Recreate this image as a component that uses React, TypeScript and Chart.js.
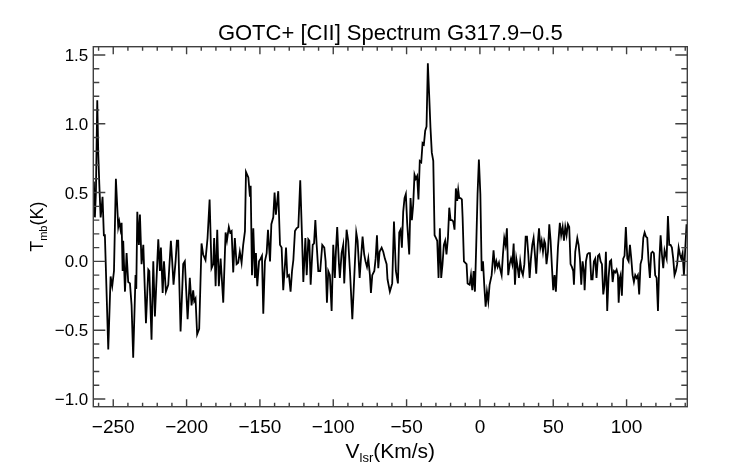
import React, { useEffect, useRef } from "react";
import { Chart, registerables } from "chart.js";

Chart.register(...registerables);

// ---- Text ----
const TITLE = "GOTC+ [CII] Spectrum G317.9\u22120.5";
const X_TITLE_MAIN = "V";
const X_TITLE_SUB = "lsr";
const X_TITLE_TAIL = "(Km/s)";
const Y_TITLE_MAIN = "T";
const Y_TITLE_SUB = "mb";
const Y_TITLE_TAIL = "(K)";

// ---- Axis ranges and ticks ----
const X_MIN = -263.6;
const X_MAX = 141.4;
const Y_MIN = -1.056;
const Y_MAX = 1.56;
const xMajorTicks = [-250, -200, -150, -100, -50, 0, 50, 100];
const yMajorTicks = [-1.0, -0.5, 0.0, 0.5, 1.0, 1.5];
const X_MINOR_STEP = 10;
const Y_MINOR_STEP = 0.1;

// ---- Spectrum: [velocity (km/s), Tmb (K)] ----
const band1: [number, number][] = [
  [-263.2, 0.58], [-262.5, 0.32], [-261.8, 0.51], [-260.9, 1.17], [-260.2, 0.78],
  [-259.5, 0.56], [-258.6, 0.32], [-257.9, 0.39], [-257.3, 0.47], [-256.4, 0.19],
  [-255.7, 0.19], [-253.4, -0.64], [-251.8, -0.11], [-250.7, -0.18], [-249.5, -0.07],
  [-248.2, 0.6], [-246.6, 0.25], [-245.9, 0.29], [-245.0, 0.23], [-244.3, 0.28],
  [-243.6, -0.07], [-243.2, 0.15], [-242.0, -0.22], [-240.9, 0.06], [-239.8, -0.15],
  [-238.6, -0.16], [-237.5, -0.32], [-236.4, -0.7], [-234.8, -0.1], [-234.3, -0.2],
  [-233.6, 0.36], [-232.5, 0.12], [-231.8, 0.34], [-230.7, -0.02], [-229.5, 0.12],
  [-227.7, -0.45], [-226.1, -0.06], [-225.4, -0.07], [-223.9, -0.57], [-222.7, 0.0],
  [-221.6, -0.4], [-219.3, 0.16], [-218.2, -0.07], [-217.5, 0.1], [-216.3, -0.23],
  [-215.4, 0.0], [-214.1, -0.22], [-212.5, -0.17],
];
const band2: [number, number][] = [
  [-210.7, 0.15], [-209.8, 0.0], [-208.9, -0.17], [-207.5, 0.0], [-206.6, 0.15],
  [-205.7, 0.15], [-204.1, -0.51], [-202.3, -0.02], [-201.2, 0.0], [-199.3, -0.42],
  [-197.8, -0.12], [-196.6, -0.32], [-195.5, -0.21], [-194.8, -0.29], [-193.9, -0.27],
  [-192.8, -0.53], [-191.4, -0.49], [-189.8, 0.13], [-188.7, 0.05], [-187.1, 0.01],
  [-185.7, 0.17], [-184.3, 0.45], [-183.0, -0.05], [-181.8, -0.02], [-181.2, 0.17],
  [-180.2, -0.18], [-179.1, 0.23], [-178.0, -0.18], [-176.8, 0.02], [-175.0, -0.3],
  [-173.4, 0.21], [-172.5, 0.15], [-171.2, 0.25], [-170.3, 0.21], [-169.3, 0.22],
  [-168.2, -0.08], [-167.1, 0.17], [-165.9, -0.02], [-164.8, -0.01], [-163.7, 0.07],
  [-162.5, -0.01], [-161.4, 0.12],
];
const band3: [number, number][] = [
  [-160.2, 0.22], [-159.5, 0.65], [-157.9, 0.61], [-156.8, 0.47], [-156.3, 0.55],
  [-155.4, -0.1], [-154.5, 0.24], [-153.4, -0.12], [-152.7, 0.06], [-151.8, -0.18],
  [-150.6, 0.0], [-149.5, 0.02], [-148.6, 0.04], [-147.7, -0.38], [-146.6, 0.0],
  [-145.4, 0.06], [-144.5, 0.23], [-143.1, 0.0], [-142.2, 0.27], [-140.9, 0.32],
  [-140.0, 0.5], [-139.1, 0.34], [-137.5, 0.51], [-136.3, 0.12], [-135.2, 0.1],
  [-134.1, -0.21], [-132.9, -0.02], [-132.2, 0.1], [-131.3, -0.11], [-130.2, -0.1],
  [-129.1, -0.22], [-128.1, -0.07], [-127.2, 0.01], [-126.1, 0.22], [-125.0, 0.24],
  [-123.8, 0.25], [-122.5, 0.59], [-121.3, 0.18], [-120.4, -0.15], [-119.0, 0.17],
  [-118.1, -0.1], [-117.0, 0.16], [-116.3, 0.15], [-115.4, -0.17], [-114.0, 0.12],
  [-113.1, 0.13], [-112.2, 0.3], [-111.3, 0.12], [-110.2, -0.07],
];
const band4: [number, number][] = [
  [-108.9, -0.07], [-107.5, 0.12], [-106.1, 0.1], [-105.2, 0.0], [-104.3, -0.3],
  [-103.4, -0.07], [-102.3, -0.1], [-101.1, -0.36], [-100.0, 0.12], [-98.9, -0.12],
  [-98.2, 0.07], [-97.3, 0.25], [-96.1, -0.02], [-95.5, -0.12], [-94.3, 0.06],
  [-93.2, 0.12], [-92.5, -0.16], [-90.9, 0.23], [-89.8, 0.15], [-88.6, -0.07],
  [-87.0, -0.42], [-85.7, -0.12], [-84.3, 0.21], [-83.4, 0.15], [-82.0, -0.12],
  [-81.1, 0.02], [-80.0, 0.18], [-78.9, 0.05], [-78.0, 0.0], [-77.0, -0.04],
  [-76.1, 0.02], [-75.0, -0.1], [-74.3, -0.23], [-73.4, -0.1], [-72.0, -0.07],
  [-71.1, 0.02], [-70.2, 0.19], [-69.3, -0.05], [-68.4, 0.07], [-67.0, 0.1],
  [-65.9, 0.07], [-64.8, 0.02], [-63.6, -0.02], [-63.0, -0.13], [-61.4, -0.22],
  [-59.8, -0.16], [-58.6, 0.29],
];
const band5: [number, number][] = [
  [-57.3, -0.07], [-55.9, -0.16], [-55.0, 0.21], [-54.1, 0.23], [-53.2, 0.1],
  [-52.3, 0.36], [-51.4, 0.46], [-50.5, 0.49], [-49.6, 0.28], [-48.2, 0.05],
  [-47.3, 0.46], [-46.4, 0.3], [-45.5, 0.41], [-44.6, 0.63], [-43.7, 0.6],
  [-42.8, 0.62], [-41.9, 0.45], [-41.0, 0.73], [-40.0, 0.72], [-39.1, 0.86],
  [-38.2, 0.85], [-37.3, 0.95], [-36.4, 0.98], [-35.5, 1.44], [-34.6, 1.21],
  [-33.7, 0.97], [-32.8, 0.79], [-31.8, 0.73], [-30.9, 0.19], [-30.0, 0.17],
  [-29.1, 0.15], [-28.2, -0.12], [-27.3, 0.24], [-26.4, -0.12], [-25.5, -0.02],
  [-24.6, 0.12], [-23.7, 0.15], [-22.8, 0.05], [-21.8, 0.17], [-20.9, 0.39],
  [-20.0, 0.3], [-19.1, 0.3], [-18.2, 0.29], [-17.3, 0.23], [-16.4, 0.53],
  [-15.5, 0.44], [-14.8, 0.52], [-14.1, 0.46], [-13.2, 0.46], [-12.3, 0.45],
  [-11.8, 0.32], [-10.9, 0.0],
];
const band6: [number, number][] = [
  [-9.1, -0.02], [-8.4, -0.16], [-7.0, -0.17], [-6.1, -0.1], [-5.2, -0.21],
  [-4.3, -0.07], [-3.4, -0.22], [-2.5, 0.12], [-1.6, 0.49], [-0.7, 0.74],
  [0.3, 0.49], [1.2, -0.07], [2.1, 0.0], [3.0, -0.18], [3.9, -0.33],
  [4.8, -0.22], [5.7, -0.29], [6.6, -0.17], [8.0, -0.1], [9.3, 0.08],
  [10.3, -0.05], [11.2, 0.0], [12.1, -0.04], [13.0, -0.01], [13.9, -0.06],
  [14.8, -0.1], [15.7, 0.05], [16.6, 0.17], [17.5, 0.12], [18.4, 0.24],
  [19.3, -0.1], [20.3, -0.02], [21.2, 0.02], [22.1, -0.02], [23.0, 0.13],
  [23.9, -0.17], [24.8, 0.02], [25.7, -0.04], [26.6, -0.12], [27.5, 0.0],
  [28.4, -0.07], [29.3, -0.1], [30.3, -0.02], [31.2, 0.18], [32.1, 0.18],
  [33.0, 0.05], [33.9, -0.12], [34.8, 0.02], [35.7, 0.12], [36.6, 0.17],
  [37.5, 0.05], [38.4, -0.09], [39.4, 0.12], [40.3, 0.24], [41.2, 0.1],
  [42.1, 0.15], [43.0, 0.07], [43.9, 0.15],
];
const band7: [number, number][] = [
  [44.5, 0.13], [45.4, -0.02], [46.4, 0.07], [47.3, 0.27], [48.2, 0.15],
  [49.1, -0.04], [50.0, -0.21], [50.9, -0.1], [51.8, -0.22], [53.2, 0.1],
  [54.5, 0.28], [55.4, 0.19], [56.4, 0.25], [57.3, 0.15], [58.2, 0.25],
  [59.1, 0.19], [60.0, 0.27], [60.9, 0.25], [61.8, -0.02], [62.7, -0.04],
  [63.6, -0.07], [64.1, -0.17], [65.0, 0.07], [66.4, 0.17], [67.3, 0.12],
  [68.2, 0.02], [69.1, -0.17], [70.0, 0.0], [70.9, -0.07], [71.4, -0.21],
  [72.3, 0.0], [73.2, 0.05], [74.1, 0.06], [75.0, 0.06], [75.9, -0.13],
  [76.8, -0.13], [77.7, 0.0], [78.6, 0.02], [79.5, -0.12], [80.5, 0.04],
  [81.4, 0.05], [82.3, 0.0], [83.2, -0.02], [84.1, -0.24], [85.0, -0.17],
  [85.9, 0.07], [86.8, -0.36], [87.7, -0.12], [88.6, 0.0], [89.5, 0.01],
  [90.5, -0.15], [91.4, -0.07], [92.3, -0.08], [93.2, -0.06], [94.1, -0.1],
];
const band8: [number, number][] = [
  [94.6, -0.3], [95.4, -0.12], [95.9, -0.1], [96.8, -0.25], [97.7, 0.02],
  [98.6, 0.04], [99.5, 0.25], [100.5, 0.02], [101.4, 0.0], [102.3, 0.12],
  [103.2, 0.02], [104.1, -0.1], [105.0, -0.15], [105.9, -0.1], [106.8, -0.12],
  [107.7, -0.1], [108.6, -0.24], [109.5, -0.02], [110.5, 0.02], [111.4, 0.17],
  [112.3, 0.21], [113.2, 0.18], [114.1, 0.17], [115.0, 0.0], [115.9, -0.12],
  [116.8, 0.06], [117.7, 0.07], [118.6, 0.06], [119.5, -0.1], [120.5, -0.12],
  [121.4, -0.36], [122.3, 0.0], [123.2, 0.19], [124.1, 0.05], [125.0, -0.05],
  [125.9, 0.08], [126.8, 0.04], [127.3, 0.02], [128.2, 0.33], [129.1, 0.12],
  [130.0, 0.12], [130.9, 0.1], [131.8, 0.02], [132.7, -0.1], [133.6, -0.07],
  [134.5, -0.02], [135.5, 0.1], [136.4, 0.05], [137.3, 0.02], [138.2, 0.06],
  [139.1, -0.1], [140.0, 0.09], [140.9, 0.27],
];

const spectrum = [...band1, ...band2, ...band3, ...band4, ...band5, ...band6, ...band7, ...band8];

const FONT = "'Liberation Sans', Arial, Helvetica, sans-serif";
const AXIS_COLOR = "#404040";

function fmtX(v: number): string {
  return v < 0 ? "\u2212" + Math.abs(v) : String(v);
}
function fmtY(v: number): string {
  const s = Math.abs(v).toFixed(1);
  return v < -1e-9 ? "\u2212" + s : s;
}

const idlFrame = {
  id: "idlFrame",
  afterDraw(chart: any) {
    const { ctx, chartArea: a, scales } = chart;
    const xs = scales.x;
    const ys = scales.y;
    ctx.save();

    // frame
    ctx.strokeStyle = AXIS_COLOR;
    ctx.lineWidth = 1.4;
    ctx.strokeRect(a.left, a.top, a.right - a.left, a.bottom - a.top);

    // ticks
    ctx.beginPath();
    const xMajLen = 7.5, xMinLen = 4;
    const yMajLen = 12, yMinLen = 6;
    for (let v = Math.ceil(X_MIN / X_MINOR_STEP) * X_MINOR_STEP; v <= X_MAX; v += X_MINOR_STEP) {
      const p = xs.getPixelForValue(v);
      const len = xMajorTicks.includes(v) ? xMajLen : xMinLen;
      ctx.moveTo(p, a.bottom);
      ctx.lineTo(p, a.bottom - len);
      ctx.moveTo(p, a.top);
      ctx.lineTo(p, a.top + len);
    }
    for (let i = Math.ceil(Y_MIN / Y_MINOR_STEP); i * Y_MINOR_STEP <= Y_MAX + 1e-9; i++) {
      const v = i * Y_MINOR_STEP;
      const p = ys.getPixelForValue(v);
      const isMajor = yMajorTicks.some((t) => Math.abs(t - v) < 1e-6);
      const len = isMajor ? yMajLen : yMinLen;
      ctx.moveTo(a.left, p);
      ctx.lineTo(a.left + len, p);
      ctx.moveTo(a.right, p);
      ctx.lineTo(a.right - len, p);
    }
    ctx.stroke();

    // tick labels
    ctx.fillStyle = "#000";
    ctx.textBaseline = "alphabetic";
    ctx.font = `19px ${FONT}`;
    ctx.textAlign = "center";
    for (const v of xMajorTicks) {
      ctx.fillText(fmtX(v), xs.getPixelForValue(v), 433);
    }
    ctx.font = `17px ${FONT}`;
    ctx.textAlign = "right";
    for (const v of yMajorTicks) {
      ctx.fillText(fmtY(v), a.left - 5, ys.getPixelForValue(v) + 6);
    }

    // title
    ctx.font = `22px ${FONT}`;
    ctx.textAlign = "center";
    ctx.fillText(TITLE, (a.left + a.right) / 2, 40);

    // x title with subscript
    ctx.textAlign = "left";
    const xBig = `21px ${FONT}`;
    const xSmall = `13px ${FONT}`;
    ctx.font = xBig;
    const w1 = ctx.measureText(X_TITLE_MAIN).width;
    const w3 = ctx.measureText(X_TITLE_TAIL).width;
    ctx.font = xSmall;
    const w2 = ctx.measureText(X_TITLE_SUB).width;
    let x0 = (a.left + a.right) / 2 - (w1 + w2 + w3) / 2;
    const xb = 458;
    ctx.font = xBig;
    ctx.fillText(X_TITLE_MAIN, x0, xb);
    ctx.font = xSmall;
    ctx.fillText(X_TITLE_SUB, x0 + w1, xb + 4);
    ctx.font = xBig;
    ctx.fillText(X_TITLE_TAIL, x0 + w1 + w2, xb);

    // y title rotated with subscript
    const yBig = `18px ${FONT}`;
    const ySmall = `11px ${FONT}`;
    ctx.font = yBig;
    const u1 = ctx.measureText(Y_TITLE_MAIN).width;
    const u3 = ctx.measureText(Y_TITLE_TAIL).width;
    ctx.font = ySmall;
    const u2 = ctx.measureText(Y_TITLE_SUB).width;
    ctx.translate(43, (a.top + a.bottom) / 2);
    ctx.rotate(-Math.PI / 2);
    let s0 = -(u1 + u2 + u3) / 2;
    ctx.font = yBig;
    ctx.fillText(Y_TITLE_MAIN, s0, 0);
    ctx.font = ySmall;
    ctx.fillText(Y_TITLE_SUB, s0 + u1, 3.5);
    ctx.font = yBig;
    ctx.fillText(Y_TITLE_TAIL, s0 + u1 + u2, 0);

    ctx.restore();
  },
};

export default function App() {
  const ref = useRef<HTMLCanvasElement | null>(null);
  useEffect(() => {
    if (!ref.current) return;
    const chart = new Chart(ref.current, {
      type: "line",
      data: {
        datasets: [
          {
            label: "Tmb",
            data: spectrum.map(([v, t]) => ({ x: v, y: t })),
            borderColor: "#000",
            borderWidth: 1.8,
            pointRadius: 0,
            tension: 0,
            fill: false,
          },
        ],
      },
      options: {
        responsive: false,
        animation: false,
        devicePixelRatio: 1,
        layout: { padding: { left: 93.3, right: 54.7, top: 46.7, bottom: 57.3 } },
        scales: {
          x: { type: "linear", min: X_MIN, max: X_MAX, display: false },
          y: { type: "linear", min: Y_MIN, max: Y_MAX, display: false },
        },
        plugins: {
          legend: { display: false },
          title: { display: false },
          tooltip: { enabled: false },
        },
      },
      plugins: [idlFrame],
    });
    return () => chart.destroy();
  }, []);
  return (
    <div style={{ position: "absolute", left: 0, top: 0, width: 742, height: 464, background: "#fff" }}>
      <canvas ref={ref} width={742} height={464} style={{ width: 742, height: 464, display: "block" }} />
    </div>
  );
}
